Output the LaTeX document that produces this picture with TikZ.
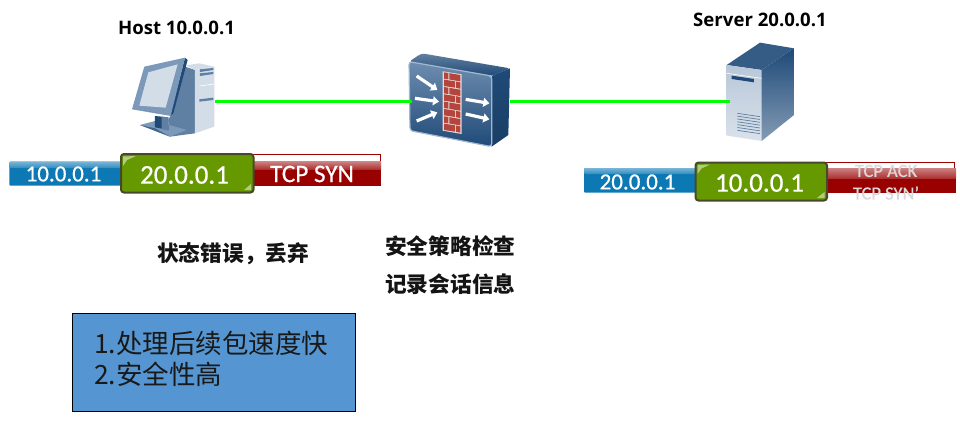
\documentclass[tikz,border=0pt]{standalone}
\usepackage{fontspec}
\setmainfont{Carlito}
\newfontfamily\barfont[FakeBold=0.6]{Carlito}
\newfontfamily\cjk{Noto Sans CJK SC}
\newfontfamily\lbl{Open Sans}
\usetikzlibrary{arrows.meta,calc}
\definecolor{linkg}{HTML}{00FF00}
\definecolor{barblue}{HTML}{0C78B4}
\definecolor{bargreen}{HTML}{669900}
\definecolor{barred}{HTML}{990000}
\definecolor{boxblue}{HTML}{5596D2}
\definecolor{olive}{HTML}{48482A}
\definecolor{pcmid}{HTML}{5F7FA3}
\definecolor{pclight}{HTML}{D3DDE8}
\definecolor{pcframe}{HTML}{7C99B9}
\definecolor{navy}{HTML}{1F4A78}
\definecolor{brick}{HTML}{B5453C}
\definecolor{mortar}{HTML}{E6DAD6}
\tikzset{
  anchorbox/.style={minimum height=1pt,inner sep=0pt,outer sep=0pt},
  link/.style={draw=linkg,line width=3pt},
  hostlabel/.style={font=\lbl\bfseries\fontsize{18.6}{20}\selectfont,text=black,inner sep=0},
  cjklabel/.style={font=\cjk\bfseries\fontsize{21.7}{24}\selectfont,text=black!92,inner sep=0},
  bartext/.style={text=white,inner sep=0},
  fwarrow/.style={draw=white,line width=3.2pt,-{Triangle[length=6pt,width=9pt]}},
}
\begin{document}
\begin{tikzpicture}[x=1pt,y=-1pt]
\useasboundingbox (0,0) rectangle (960,433);

% --- Host icon (zoom coords: origin 0,10, 1/3 scale)
\begin{scope}[shift={(0,10)},x=0.3333pt,y=-0.3333pt]
  \fill[pcmid] (555,170)--(585,180)--(585,370)--(510,380)--(505,330)--(520,300)--cycle;
  \fill[pclight] (558,166)--(598,160)--(643,170)--(585,180)--cycle;
  \fill[pclight] (585,180)--(643,170)--(643,350)--(585,370)--cycle;
  \fill[pcmid] (600,178)--(640,174)--(640,180)--(600,186)--cycle;
  \fill[pcmid] (600,190)--(640,186)--(640,192)--(600,198)--cycle;
  \fill[pcmid] (598,268)--(640,263)--(640,270)--(598,275)--cycle;
  \draw[white,line width=.6pt] (598,228)--(643,222);
  % base and stand
  \fill[pcframe] (420,345)--(465,333)--(560,360)--(510,380)--cycle;
  \fill[navy!85] (465,355)--(510,380)--(420,345)--cycle;
  \fill[navy] (465,318)--(505,322)--(505,360)--(465,352)--cycle;
  \fill[pcmid] (485,320)--(505,322)--(505,362)--(485,357)--cycle;
  % monitor
  \fill[navy] (555,143)--(563,150)--(520,310)--(510,318)--cycle;
  \fill[pcframe] (433,170)--(555,143)--(512,318)--(396,298)--cycle;
  \fill[pclight] (445,187)--(533,163)--(497,293)--(418,287)--cycle;
  \fill[navy!70] (435,301) circle (2);
  \fill[navy!70] (450,304) circle (2);
  \fill[navy!70] (468,307) circle (2);
\end{scope}

% --- Firewall icon (origin 390,40)
\begin{scope}[shift={(390,40)},x=0.3333pt,y=-0.3333pt]
  \shade[top color=navy!70!white,bottom color=navy,rounded corners=3pt]
     (57,65)--(95,40)--(360,85)--(305,108)--cycle;
  \shade[top color=navy,bottom color=navy!85!black] (305,108)--(360,85)--(355,285)--(305,320)--cycle;
  \draw[draw=pcframe!60!white,line width=1.2pt] (305,108)--(305,320);
  \shade[top color=pcframe!85!navy,middle color=pcframe!60!navy,bottom color=navy,rounded corners=3pt,
         draw=pcframe!70!white,line width=1.2pt]
     (57,65)--(305,108)--(305,320)--(60,272)--cycle;
  % wall
  \fill[mortar] (158,94)--(215,103)--(215,282)--(158,272)--cycle;
  \foreach \r in {0,...,7}{
    \pgfmathsetmacro{\ya}{97+22*\r}
    \pgfmathsetmacro{\yb}{\ya+8.2}
    \pgfmathsetmacro{\yc}{\ya+19}
    \pgfmathsetmacro{\yd}{\yb+19}
    \pgfmathtruncatemacro{\odd}{mod(\r,2)}
    \ifnum\odd=0
      \fill[brick] (162,\ya)--(175,\ya+2)--(175,\ya+21)--(162,\yc)--cycle;
      \fill[brick] (178,\ya+2.5)--(211,\yb)--(211,\yd)--(178,\ya+21.5)--cycle;
    \else
      \fill[brick] (162,\ya)--(195,\ya+5)--(195,\ya+24)--(162,\yc)--cycle;
      \fill[brick] (198,\ya+5.5)--(211,\yb)--(211,\yd)--(198,\ya+24.5)--cycle;
    \fi
  }
  \draw[fwarrow] (80,108)--(142,150);
  \draw[fwarrow] (75,175)--(147,185);
  \draw[fwarrow] (80,243)--(142,217);
  \draw[fwarrow] (227,178)--(298,190);
  \draw[fwarrow] (227,222)--(298,238);
\end{scope}

% --- Server icon (origin 570,5)
\begin{scope}[shift={(570,5)},x=0.3333pt,y=-0.3333pt]
  \shade[top color=navy!90!white,bottom color=navy!90!white] (470,180)--(570,113)--(672,130)--(575,195)--cycle;
  \shade[top color=navy,bottom color=navy!55!white,shading angle=0] (575,195)--(672,130)--(672,330)--(575,408)--cycle;
  \shade[top color=pclight!85!navy,bottom color=pclight!85!white] (470,180)--(575,195)--(575,408)--(470,392)--cycle;
  \draw[white,line width=.6pt] (470,205)--(575,220);
  \fill[navy] (485,212)--(552,222)--(552,232)--(485,222)--cycle;
  \foreach \i in {0,...,6}{
    \draw[pcmid,line width=.7pt] (502,{325+8.5*\i})--(570,{335+8.5*\i});
  }
\end{scope}

% --- Invisible node extents for connectors
\node[anchorbox,minimum width=80pt] (host) at (175,101.3) {};
\node[anchorbox,minimum width=98pt] (fw) at (461,101.3) {};
\node[anchorbox,minimum width=60pt] (srv) at (760,101.3) {};
\draw[link] (host.east) -- (fw.west);
\draw[link] (fw.east) -- (srv.west);

% --- Left packet
\fill[barblue,rounded corners=1pt] (9.3,161.7) rectangle (122,185.7);
\shade[top color=barblue!55!white,bottom color=barblue!85!white,rounded corners=1pt] (9.3,161.7) rectangle (122,168);
\draw[draw=barred,line width=.9pt,fill=white] (252,154.7) rectangle (380.5,166);
\fill[barred] (252,161.7) rectangle (381,185.7);
\shade[top color=barred!50!white,bottom color=barred!80!white] (252,161.7) rectangle (381,169);
\fill[bargreen,draw=olive,line width=2pt,rounded corners=3pt] (121,154) rectangle (253.5,192.5);
\fill[bargreen!50!white] (123,166)--(123,156.5)--(136,156)--(127,160)--cycle;
\fill[bargreen!50!white] (251,184)--(251,190)--(244,190)--cycle;
\node[bartext,font=\barfont\fontsize{23}{23}\selectfont] (s1) at (63.5,174) {10.0.0.1};
\node[bartext,font=\barfont\fontsize{27}{27}\selectfont] (d1) at (184.5,175) {20.0.0.1};
\node[bartext,font=\barfont\fontsize{25.2}{25}\selectfont] (p1) at (312,174) {TCP SYN};

% --- Right packet
\fill[barblue,rounded corners=1pt] (584,168) rectangle (697,192.7);
\shade[top color=barblue!55!white,bottom color=barblue!85!white,rounded corners=1pt] (584,168) rectangle (697,174);
\draw[draw=barred,line width=.9pt,fill=white] (826,162.3) rectangle (954.5,172);
\fill[barred] (826,168.3) rectangle (956,192.7);
\shade[top color=barred!50!white,bottom color=barred!80!white] (826,168.3) rectangle (956,178);
\fill[bargreen,draw=olive,line width=2pt,rounded corners=3pt] (695.5,162.5) rectangle (827,200.5);
\fill[bargreen!50!white] (697.5,174)--(697.5,165)--(710,164.5)--(701.5,168.5)--cycle;
\fill[bargreen!50!white] (824.5,192)--(824.5,198)--(817,198)--cycle;
\node[bartext,font=\barfont\fontsize{23}{23}\selectfont] (s2) at (637.5,182) {20.0.0.1};
\node[bartext,font=\barfont\fontsize{27}{27}\selectfont] (d2) at (759.5,183) {10.0.0.1};
\node[bartext,text=white!85!black,font=\barfont\fontsize{18.5}{18}\selectfont] (p2a) at (886,171) {TCP ACK};
\node[bartext,text=white!85!black,font=\barfont\fontsize{18.5}{18}\selectfont] (p2b) at (886,193) {TCP SYN’};

% --- Labels
\node[hostlabel] (hl) at (176.5,28) {Host 10.0.0.1};
\node[hostlabel] (sl) at (760,20) {Server 20.0.0.1};
\node[cjklabel,anchor=west] (drop) at (157,254) {状态错误，丢弃};
\node[cjklabel,anchor=west] (chk) at (385,246) {安全策略检查};
\node[cjklabel,anchor=west] (rec) at (385,284) {记录会话信息};

% --- Note box
\node[draw=black,fill=boxblue,line width=.9pt,inner sep=0,minimum width=282.6pt,minimum height=98pt] (note) at (214,362.3) {};
\node[anchor=west,inner sep=0,text=black!90,font=\cjk\fontsize{26.5}{30}\selectfont] (n1) at (94,343) {1.处理后续包速度快};
\node[anchor=west,inner sep=0,text=black!90,font=\cjk\fontsize{26.5}{30}\selectfont] (n2) at (94,374) {2.安全性高};
\end{tikzpicture}
\end{document}
